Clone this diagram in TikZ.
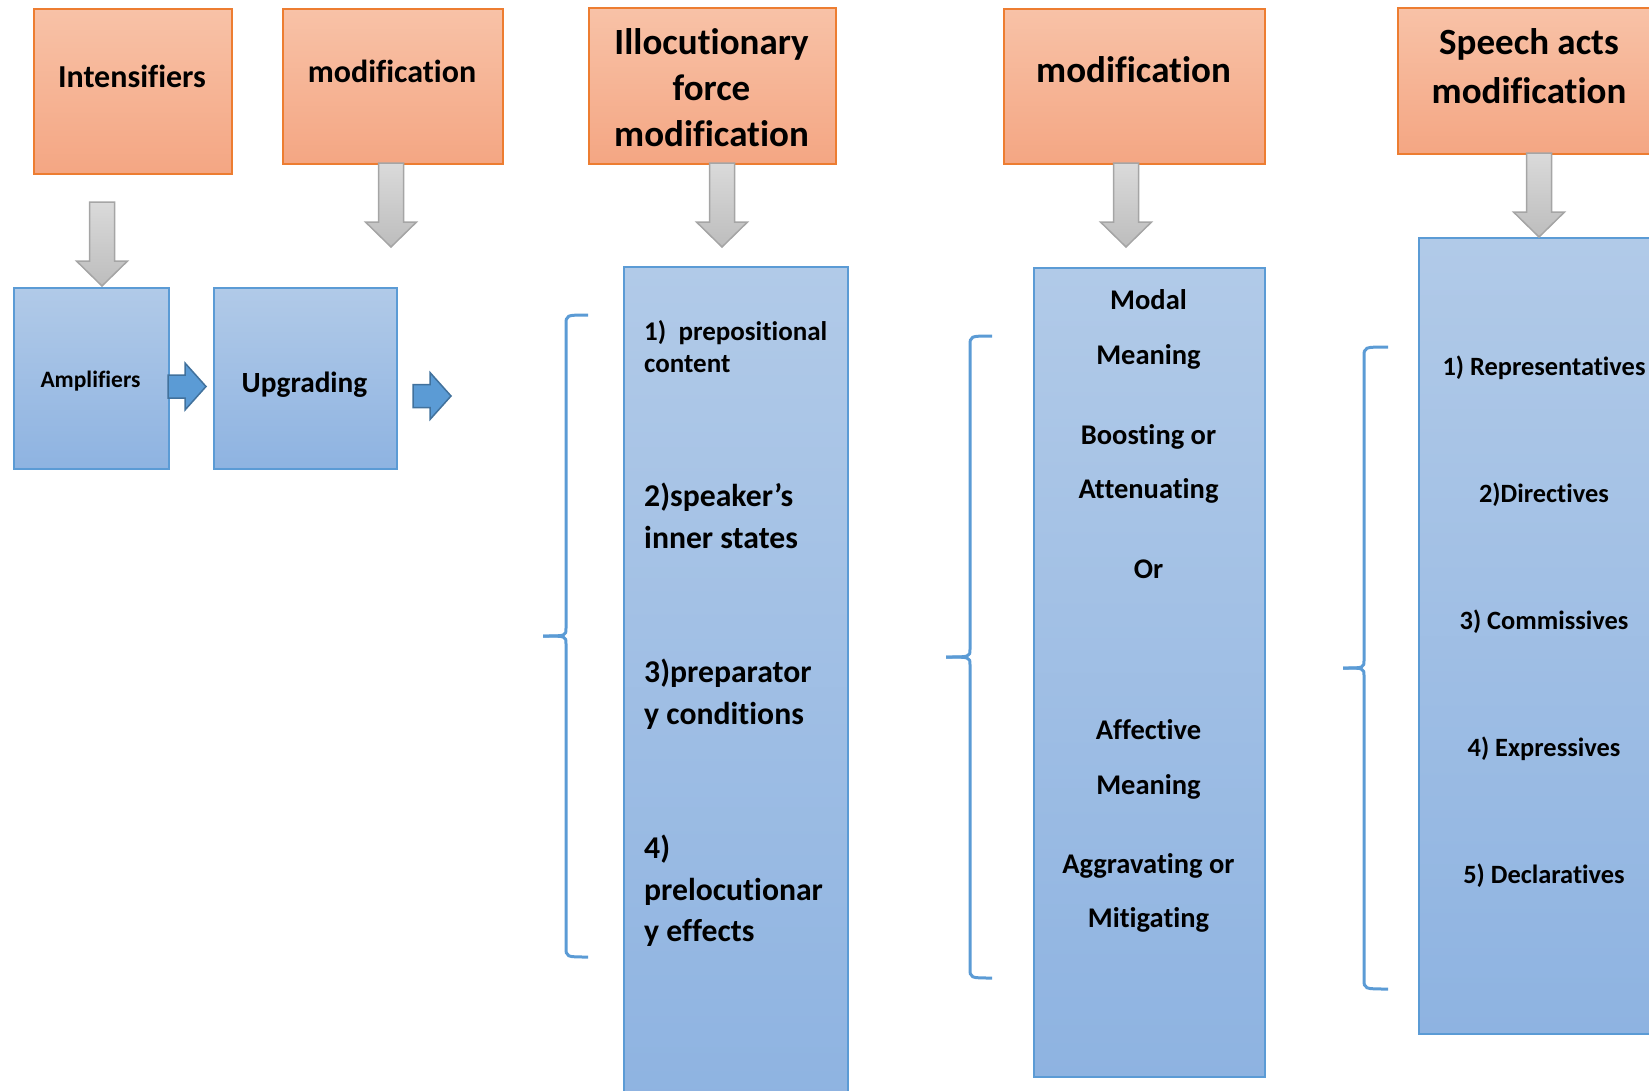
\documentclass[tikz,border=0pt]{standalone}
\usepackage{fontspec}
\setmainfont{Carlito}[Ligatures=NoCommon, RawFeature={-liga,-clig,-calt,-dlig}]
\usepackage{tikz}
\usetikzlibrary{positioning, calc}

\definecolor{orangetop}{HTML}{F8C2A7}
\definecolor{orangebottom}{HTML}{F4A683}
\definecolor{orangeedge}{HTML}{ED7D31}
\definecolor{bluetop}{HTML}{B1CAE8}
\definecolor{bluebottom}{HTML}{8EB3E1}
\definecolor{blueedge}{HTML}{5B9BD5}
\definecolor{graytop}{HTML}{DADADA}
\definecolor{graybottom}{HTML}{BDBDBD}
\definecolor{grayedge}{HTML}{A5A5A5}
\definecolor{arrowfill}{HTML}{5B9BD5}
\definecolor{arrowedge}{HTML}{41719C}

\tikzset{
  titlebox/.style={draw=orangeedge, line width=2pt, top color=orangetop, bottom color=orangebottom, anchor=north west, inner sep=0pt},
  itembox/.style={draw=blueedge, line width=2pt, top color=bluetop, bottom color=bluebottom, anchor=north west, inner sep=0pt},
  downblock/.style={draw=grayedge, line width=1.5pt, top color=graytop, bottom color=graybottom},
  rightblock/.style={draw=arrowedge, line width=1.5pt, fill=arrowfill},
  brace/.style={draw=blueedge, line width=3pt},
  txt/.style={font=\bfseries\fontsize{#1}{#1}\selectfont, inner sep=0pt, anchor=base},
  txt/.default=32
}

% block arrows, drawn from their top / left point
\newcommand{\downblk}[1]{%
  \filldraw[downblock] (#1) ++(-12.5,0) -- ++(25,0) -- ++(0,59) -- ++(13,0)
    -- ++(-25.5,25) -- ++(-25.5,-25) -- ++(13,0) -- cycle;}
\newcommand{\rightblk}[1]{%
  \filldraw[rightblock] (#1) ++(0,-11.5) -- ++(17,0) -- ++(0,-12) -- ++(21,23.5)
    -- ++(-21,23.5) -- ++(0,-12) -- ++(-17,0) -- cycle;}
% left brace: x of spine, top, bottom, tip x, tip y, x of hooks
\newcommand{\leftbrace}[6]{%
  \draw[brace] (#6,#2) .. controls (#1,#2) .. (#1,#2+10) -- (#1,#5-8)
    .. controls (#1,#5) .. (#4,#5);
  \draw[brace] (#4,#5) .. controls (#1,#5) .. (#1,#5+8) -- (#1,#3-10)
    .. controls (#1,#3) .. (#6,#3);}

\begin{document}
\begin{tikzpicture}[x=1pt, y=-1pt]
  \useasboundingbox (0,0) rectangle (1649,1090);
  \clip (0,0) rectangle (1649,1090);

  % orange headings
  \node[titlebox, minimum width=198pt, minimum height=165pt] (intens) at (33,8) {};
  \node[titlebox, minimum width=220pt, minimum height=155pt] (modA) at (282,8) {};
  \node[titlebox, minimum width=247pt, minimum height=156pt] (illoc) at (588,7) {};
  \node[titlebox, minimum width=261pt, minimum height=155pt] (modB) at (1003,8) {};
  \node[titlebox, minimum width=290pt, minimum height=146pt] (speech) at (1397,7) {};

  % blue boxes
  \node[itembox, minimum width=155pt, minimum height=181pt] (ampl) at (13,287) {};
  \node[itembox, minimum width=183pt, minimum height=181pt] (upgr) at (213,287) {};
  \node[itembox, minimum width=224pt, minimum height=840pt] (forcecol) at (623,266) {};
  \node[itembox, minimum width=231pt, minimum height=809pt] (meaningcol) at (1033,267) {};
  \node[itembox, minimum width=270pt, minimum height=796pt] (actscol) at (1418,237) {};

  % heading texts
  \node[txt] (t-intens) at (132,87) {Intensifiers};
  \node[txt] (t-modA) at (392,82) {modification};
  \foreach \y/\t [count=\i] in {54/Illocutionary, 100/force, 146/modification}
    \node[txt=37] (t-illoc-\i) at (711.5,\y) {\t};
  \node[txt=37] (t-modB) at (1133.5,82) {modification};
  \foreach \y/\t [count=\i] in {54/Speech acts, 103/modification}
    \node[txt=37] (t-speech-\i) at (1529,\y) {\t};

  \node[txt=23.5] (t-ampl) at (90.5,387) {Amplifiers};
  \node[txt=29.3] (t-upgr) at (304.5,392) {Upgrading};

  % items of the three columns
  \node[txt=27, anchor=base west] (f-1) at (644,340) {1)~~prepositional};
  \node[txt=27, anchor=base west] (f-2) at (644,372) {content};
  \foreach \y/\t [count=\i from 3] in {506/2)speaker’s, 548/inner states,
      682/3)preparator, 724/y conditions, 858/4), 900/prelocutionar, 941/y effects}
    \node[txt=31.7, anchor=base west] (f-\i) at (644,\y) {\t};

  \foreach \y/\t [count=\i] in {309/Modal, 364/Meaning, 444/Boosting or,
      498/Attenuating, 578/Or, 739/Affective, 794/Meaning,
      873/Aggravating or, 927/Mitigating}
    \node[txt=28.5] (m-\i) at (1148.5,\y) {\t};

  \foreach \y/\t [count=\i] in {375/1) Representatives, 502/2)Directives,
      629/3) Commissives, 756/4) Expressives, 883/5) Declaratives}
    \node[txt=26.4] (s-\i) at (1544,\y) {\t};

  % arrows
  \coordinate (d1) at (102,202);
  \coordinate (d2) at (391,163);
  \coordinate (d3) at (722,163);
  \coordinate (d4) at (1126,163);
  \coordinate (d5) at (1539,153);
  \foreach \c in {d1,d2,d3,d4,d5}
    \downblk{\c}
  \coordinate (r1) at (168,386.5);
  \coordinate (r2) at (413,396);
  \rightblk{r1}
  \rightblk{r2}

  % braces
  \leftbrace{566}{315}{957}{543}{636}{588}
  \leftbrace{970}{336}{978}{946}{657}{992}
  \leftbrace{1364}{347}{989}{1343}{668}{1388}
\end{tikzpicture}
\end{document}
